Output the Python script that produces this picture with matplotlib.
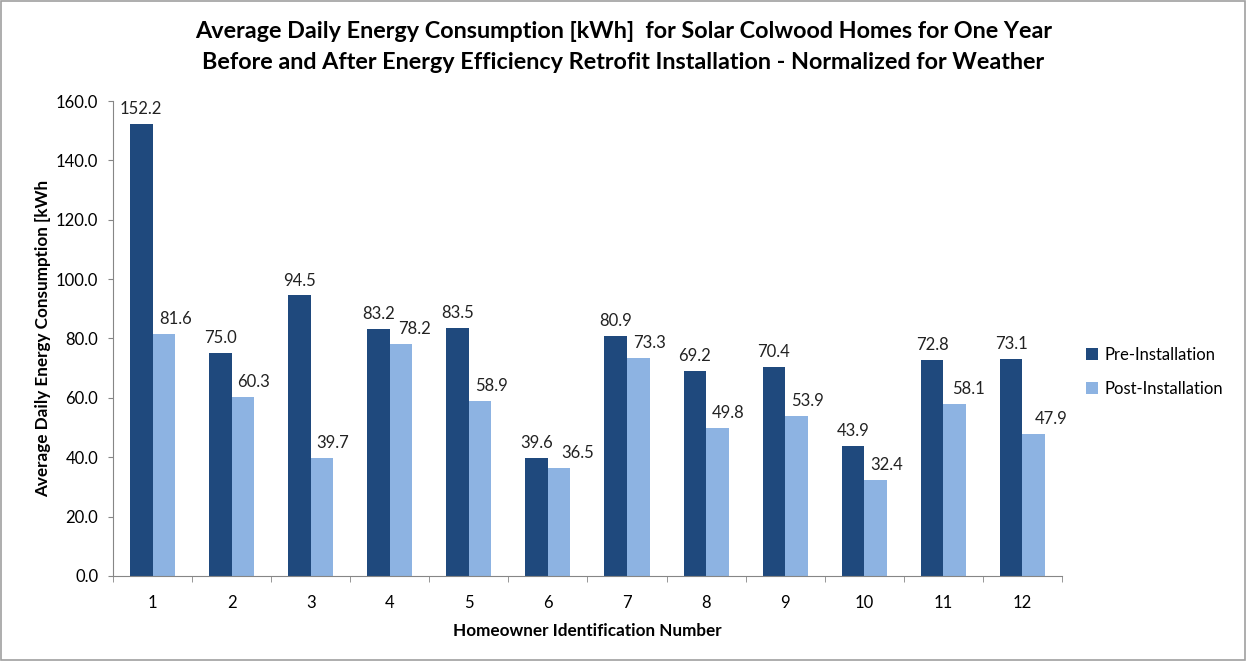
import numpy as np
import matplotlib.pyplot as plt

plt.rcParams['font.family'] = ['Lato', 'DejaVu Sans']

homes = ['1', '2', '3', '4', '5', '6', '7', '8', '9', '10', '11', '12']
pre_install = [152.2, 75.0, 94.5, 83.2, 83.5, 39.6, 80.9, 69.2, 70.4, 43.9, 72.8, 73.1]
post_install = [81.6, 60.3, 39.7, 78.2, 58.9, 36.5, 73.3, 49.8, 53.9, 32.4, 58.1, 47.9]

# post-installation labels sit a little right of their bars in the original (pixels)
post_label_shift = [12, 11, 11, 13, 11, 18, 11, 11, 11, 11, 14, 17]

dark_blue = '#1f497d'
light_blue = '#8db3e2'
axis_gray = '#868686'

fig = plt.figure(figsize=(12.47, 6.61), dpi=100)
ax = fig.add_axes([0.0906, 0.1286, 0.761, 0.7186])

x = np.arange(len(homes))
w = 0.285
b1 = ax.bar(x - w / 2, pre_install, w, color=dark_blue, label='Pre-Installation')
b2 = ax.bar(x + w / 2, post_install, w, color=light_blue, label='Post-Installation')

for rect in b1:
    ax.annotate(f'{rect.get_height():.1f}',
                (rect.get_x() + rect.get_width() / 2, rect.get_height()),
                xytext=(0, 5), textcoords='offset points',
                ha='center', va='bottom', fontsize=12, color='#222222')
for rect, dx in zip(b2, post_label_shift):
    ax.annotate(f'{rect.get_height():.1f}',
                (rect.get_x() + rect.get_width() / 2, rect.get_height()),
                xytext=(dx * 0.72, 5), textcoords='offset points',
                ha='center', va='bottom', fontsize=12, color='#222222')

ax.set_xlim(-0.5, len(homes) - 0.5)
ax.set_ylim(0, 160)
ax.set_yticks(np.arange(0, 161, 20))
ax.set_yticklabels([f'{v:.1f}' for v in np.arange(0, 161, 20)])
ax.set_xticks(x)
ax.set_xticklabels(homes)
ax.set_xticks(np.arange(-0.5, len(homes)), minor=True)
ax.tick_params(axis='x', which='major', length=0, pad=14, labelsize=12)
ax.tick_params(axis='x', which='minor', length=4.5, color=axis_gray)
ax.tick_params(axis='y', length=3.6, color=axis_gray, labelsize=12, pad=7)

for side in ('top', 'right'):
    ax.spines[side].set_visible(False)
for side in ('left', 'bottom'):
    ax.spines[side].set_color(axis_gray)

ax.set_xlabel('Homeowner Identification Number', fontsize=12.3, fontweight='bold', labelpad=8)
ax.set_ylabel('Average Daily Energy Consumption [kWh', fontsize=12.3, fontweight='bold')
ax.yaxis.set_label_coords(-0.065, 0.5)

fig.suptitle('Average Daily Energy Consumption [kWh]  for Solar Colwood Homes for One Year\n'
             'Before and After Energy Efficiency Retrofit Installation - Normalized for Weather',
             fontsize=16.8, fontweight='bold', y=0.968, x=0.5, linespacing=1.55)

ax.legend(loc='center left', bbox_to_anchor=(1.01, 0.43), frameon=False,
          fontsize=12, handlelength=0.7, handleheight=0.7, labelspacing=1.1, handletextpad=0.4)

fig.patches.append(plt.Rectangle((0.001, 0.001), 0.997, 0.997, transform=fig.transFigure,
                                 fill=False, edgecolor='#a0a0a0', linewidth=1.2))

fig.savefig('out.png', dpi=100)
